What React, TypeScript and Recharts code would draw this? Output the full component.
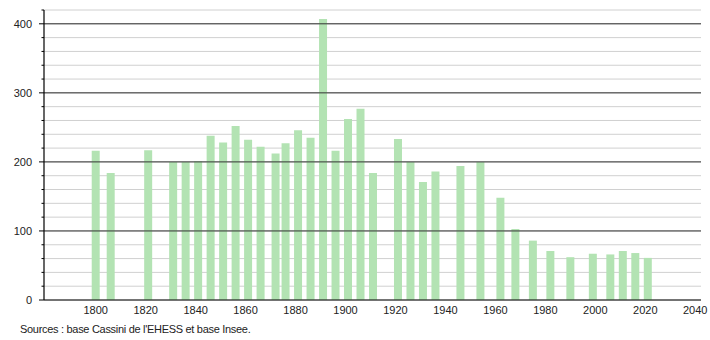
import { BarChart, Bar, XAxis, YAxis, CartesianGrid, ReferenceLine } from "recharts";

// census years and population
const years = [
  1800, 1806, 1821, 1831, 1836, 1841, 1846, 1851, 1856, 1861, 1866, 1872, 1876,
  1881, 1886, 1891, 1896, 1901, 1906, 1911, 1921, 1926, 1931, 1936, 1946, 1954,
  1962, 1968, 1975, 1982, 1990, 1999, 2006, 2011, 2016, 2021,
];
const population = [
  216, 184, 217, 200, 200, 201, 238, 228, 252, 232, 222, 212, 227,
  246, 235, 407, 216, 262, 277, 184, 233, 200, 171, 186, 194, 200,
  148, 103, 86, 71, 62, 67, 66, 71, 68, 61,
];
const xTicks = [1800, 1820, 1840, 1860, 1880, 1900, 1920, 1940, 1960, 1980, 2000, 2020, 2040];
const majorY = [100, 200, 300, 400];
const minorY = [0, 20, 40, 60, 80, 100, 120, 140, 160, 180, 200, 220, 240, 260, 280, 300, 320, 340, 360, 380, 400, 420];

const data = years.map((year, i) => ({ year, pop: population[i] }));

const FONT = "'Liberation Sans', Arial, sans-serif";
const X_MIN = 1779.3;
const X_MAX = 2042.3;

function YTick(props: any) {
  const { x, y, payload } = props;
  const ax = x + 8; // axis position (tickSize 6 + tickMargin 2)
  const major = payload.value % 100 === 0;
  return (
    <g>
      <line x1={ax - (major ? 5 : 2.5)} x2={ax} y1={y} y2={y} stroke="#000" />
      {major && (
        <text x={ax - 12} y={y} dy={4} textAnchor="end" fontSize={11} fill="#222" fontFamily={FONT}>
          {payload.value}
        </text>
      )}
    </g>
  );
}

export default function App() {
  return (
    <div style={{ position: "absolute", left: 0, top: 0, width: 710, height: 340, background: "#fff" }}>
      <BarChart
        width={710}
        height={340}
        data={data}
        margin={{ top: 10, right: 9, bottom: 20, left: 10 }}
      >
        <CartesianGrid vertical={false} horizontalValues={minorY} stroke="#d0d0d0" />
        {majorY.map((v) => (
          <ReferenceLine key={v} y={v} stroke="#333" strokeWidth={1} />
        ))}
        <XAxis
          dataKey="year"
          type="number"
          domain={[X_MIN, X_MAX]}
          ticks={xTicks}
          allowDataOverflow
          tickLine={false}
          axisLine={false}
          tick={{ fontSize: 11, fill: "#222", fontFamily: FONT }}
          tickMargin={0}
          height={20}
        />
        <YAxis
          type="number"
          domain={[0, 420]}
          ticks={minorY}
          interval={0}
          width={34}
          tickLine={false}
          axisLine={false}
          tick={<YTick />}
        />
        <Bar dataKey="pop" fill="#b3e3b3" barSize={8} isAnimationActive={false} />
        <ReferenceLine y={0} stroke="#000" strokeWidth={1.2} />
        <ReferenceLine x={X_MIN} stroke="#000" strokeWidth={1.2} />
      </BarChart>
      <div
        style={{
          position: "absolute",
          left: 20,
          top: 323,
          fontFamily: FONT,
          fontSize: 11,
          color: "#222",
          letterSpacing: -0.3,
          whiteSpace: "nowrap",
        }}
      >
        Sources : base Cassini de l'EHESS et base Insee.
      </div>
    </div>
  );
}
